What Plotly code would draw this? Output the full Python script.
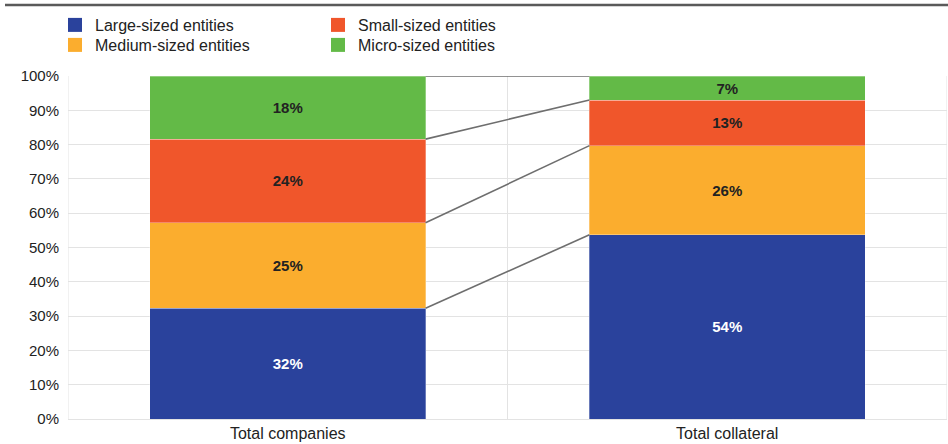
import plotly.graph_objects as go

categories = ["Total companies", "Total collateral"]
series_names = ["Large-sized entities", "Medium-sized entities", "Small-sized entities", "Micro-sized entities"]
large = [32.3, 53.7]
medium = [24.9, 26.0]
small = [24.4, 13.3]
micro = [18.4, 7.0]
colors = ["#2A429C", "#FBAD2E", "#F0562B", "#63BA47"]
label_colors = ["#FFFFFF", "#222222", "#222222", "#222222"]
y_ticks = list(range(0, 101, 10))

series = [large, medium, small, micro]
xs = list(range(len(categories)))
bar_w = 0.627
font = "Liberation Sans, Arial, sans-serif"

# layout geometry (pixels)
W, H = 948, 444
ML, MR, MT, MB = 68, 1, 76, 25
PW, PH = W - ML - MR, H - MT - MB


def px_x(p):
    return (p - ML) / PW


def px_y(q):
    return (H - MB - q) / PH


# legend slots: (legend id, box-left px, row-centre px)
legend_slots = [("legend", 55, 25), ("legend3", 55, 45), ("legend2", 318, 25), ("legend4", 318, 45)]

fig = go.Figure()
for name, vals, col, lc, slot in zip(series_names, series, colors, label_colors, legend_slots):
    fig.add_trace(go.Bar(
        x=xs, y=vals, width=bar_w, name=name,
        marker=dict(color=col, line=dict(width=0.6, color="rgba(255,255,255,0.5)")),
        text=[f"{round(v)}%" for v in vals], textposition="inside", insidetextanchor="middle",
        textangle=0, constraintext="none",
        textfont=dict(family=font, size=15, color=lc, weight="bold"),
        showlegend=False, hoverinfo="skip"))
    fig.add_trace(go.Scatter(
        x=[None], y=[None], mode="markers", name=name, legend=slot[0],
        marker=dict(symbol="square", size=14, color=col)))

# connector lines between stacked segment tops
cum0, cum1 = 0, 0
for vals in series:
    cum0 += vals[0]
    cum1 += vals[1]
    fig.add_trace(go.Scatter(
        x=[xs[0] + bar_w / 2, xs[1] - bar_w / 2], y=[cum0, cum1], mode="lines",
        line=dict(color="#6E6E6E", width=1.6), showlegend=False, hoverinfo="skip"))

# vertical category boundary gridlines
for b in [xs[0] - 0.5, xs[0] + 0.5, xs[-1] + 0.5]:
    fig.add_shape(type="line", xref="x", yref="y", x0=b, x1=b, y0=0, y1=100,
                  line=dict(color="#E3E3E3", width=1), layer="below")

# top rule
fig.add_shape(type="line", xref="paper", yref="paper", x0=px_x(5), x1=px_x(W), y0=px_y(5), y1=px_y(5),
              line=dict(color="#5A5A5A", width=2.5))

legends = {}
for lid, lx, ly in legend_slots:
    legends[lid] = dict(x=px_x(lx), xanchor="left", y=px_y(ly), yanchor="middle",
                        bgcolor="rgba(0,0,0,0)", borderwidth=0,
                        font=dict(family=font, size=16, color="#222222"), itemclick=False)

fig.update_layout(
    barmode="stack",
    width=W, height=H,
    margin=dict(l=ML, r=MR, t=MT, b=MB, autoexpand=False),
    paper_bgcolor="white", plot_bgcolor="white",
    font=dict(family=font, size=15, color="#222222"),
    showlegend=True,
    xaxis=dict(range=[-0.5, 1.5], tickvals=xs, ticktext=categories, showgrid=False,
               zeroline=False, showline=True, linecolor="#E3E3E3", ticks="",
               tickfont=dict(size=16), automargin=False, fixedrange=True),
    yaxis=dict(range=[0, 100], tickvals=y_ticks, ticktext=[f"{t}%" for t in y_ticks],
               showgrid=True, gridcolor="#E3E3E3", gridwidth=1, zeroline=False,
               showline=False, ticks="", ticklabelstandoff=8,
               tickfont=dict(size=15), automargin=False, fixedrange=True),
    **legends,
)

fig.write_html("out.html", config={"displayModeBar": False},
               post_script="document.body.style.margin='0';document.body.style.overflow='hidden';")
